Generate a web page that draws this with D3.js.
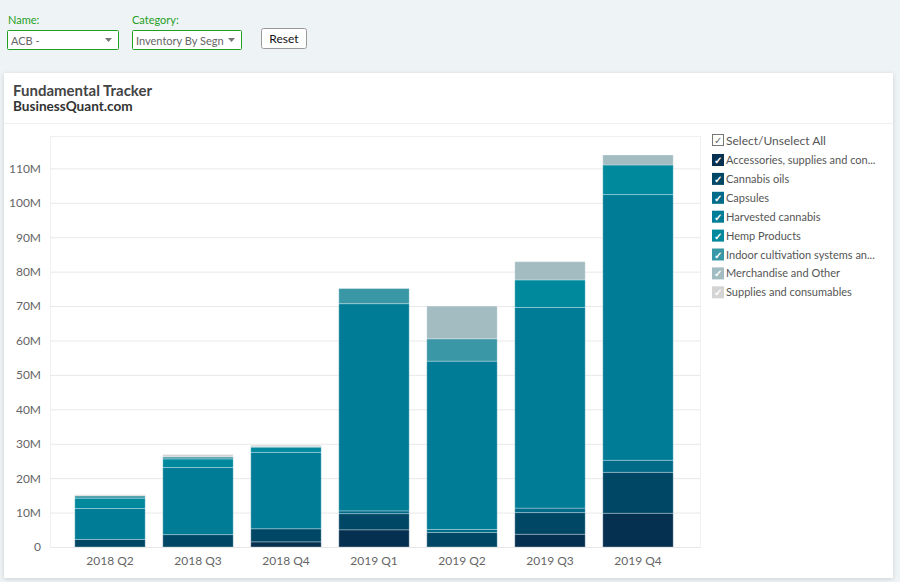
<!DOCTYPE html>
<html>

<head>
  <meta charset="UTF-8">
  <style>
      body {
        margin: 0;
        background: #eef3f6;
        font-family: Lato, "Open Sans", sans-serif;
      }
      svg {
        display: block;
      }
  </style>
</head>

<body>
  <svg id="chart" width="900" height="582"></svg>
  <script src="https://d3js.org/d3.v7.min.js"></script>
  <script>
    // quarters on the x axis
    var quarters = ["2018 Q2", "2018 Q3", "2018 Q4", "2019 Q1", "2019 Q2", "2019 Q3", "2019 Q4"];

    // segment names, bottom of the stack first
    var segments = ["Accessories, supplies and consumables", "Cannabis oils", "Capsules", "Harvested cannabis",
      "Hemp Products", "Indoor cultivation systems and parts", "Merchandise and Other", "Supplies and consumables"];
    var segColors = ["#06304f", "#004766", "#006a89", "#007c96", "#00889d", "#3a97a6", "#a2bcc2", "#d4d4d4"];

    // values in millions, one per quarter
    var accessories = [0, 0, 1.5, 5.0, 0, 3.7, 9.8];
    var cannabisOils = [2.2, 3.6, 3.8, 4.7, 4.2, 6.3, 11.9];
    var capsules = [0, 0, 0, 0.8, 0.9, 1.3, 3.5];
    var harvested = [9.0, 19.5, 22.2, 60.2, 48.9, 58.3, 77.2];
    var hemp = [3.0, 2.5, 1.5, 0, 0, 8.0, 8.6];
    var indoor = [0.7, 0.6, 0.2, 4.4, 6.5, 0, 0];
    var merchandise = [0, 0, 0, 0, 9.5, 5.3, 2.9];
    var supplies = [0.3, 0.7, 0.4, 0, 0, 0, 0];

    var yTicks = [0, 10e6, 20e6, 30e6, 40e6, 50e6, 60e6, 70e6, 80e6, 90e6, 100e6, 110e6];

    var series = [accessories, cannabisOils, capsules, harvested, hemp, indoor, merchandise, supplies];

    var rows = quarters.map(function(q, i) {
      var r = {quarter: q};
      segments.forEach(function(s, j) { r[s] = series[j][i] * 1e6; });
      return r;
    });

    var svg = d3.select("#chart");

    // drop shadow for the card
    var defs = svg.append("defs");
    var f = defs.append("filter").attr("id", "shadow").attr("x", "-5%").attr("y", "-5%")
      .attr("width", "110%").attr("height", "110%");
    f.append("feDropShadow").attr("dx", 0).attr("dy", 1).attr("stdDeviation", 2)
      .attr("flood-color", "#000").attr("flood-opacity", 0.15);

    // ---- controls on top ----
    var ctrl = svg.append("g");
    ctrl.append("text").attr("x", 8).attr("y", 24).text("Name:")
      .style("fill", "#1fa01f").style("font-size", "11px");
    ctrl.append("text").attr("x", 132).attr("y", 24).text("Category:")
      .style("fill", "#1fa01f").style("font-size", "11px");

    function selectBox(x, w, label) {
      ctrl.append("rect").attr("x", x + 0.5).attr("y", 30.5).attr("width", w).attr("height", 19)
        .attr("rx", 1).style("fill", "#fff").style("stroke", "#1fa01f");
      ctrl.append("text").attr("x", x + 4).attr("y", 44.5).text(label)
        .style("fill", "#666").style("font-size", "11px");
      ctrl.append("path")
        .attr("d", "M" + (x + w - 13) + ",38 h7 l-3.5,4 z")
        .style("fill", "#777");
    }
    selectBox(7, 111, "ACB -");
    selectBox(132, 109, "Inventory By Segn");

    ctrl.append("rect").attr("x", 261.5).attr("y", 28.5).attr("width", 45).attr("height", 20)
      .attr("rx", 2).style("fill", "#fff").style("stroke", "#999");
    ctrl.append("text").attr("x", 284).attr("y", 42.5).attr("text-anchor", "middle").text("Reset")
      .style("fill", "#111").style("font-size", "12px");

    // ---- card ----
    svg.append("rect").attr("x", 4).attr("y", 73).attr("width", 889).attr("height", 505)
      .style("fill", "#fff").attr("filter", "url(#shadow)");
    svg.append("text").attr("x", 13).attr("y", 96).text("Fundamental Tracker")
      .style("font-size", "15px").style("font-weight", "bold").style("fill", "#444");
    svg.append("text").attr("x", 13).attr("y", 111).text("BusinessQuant.com")
      .style("font-size", "13.6px").style("font-weight", "bold").style("fill", "#333");
    svg.append("line").attr("x1", 4).attr("x2", 893).attr("y1", 123.5).attr("y2", 123.5)
      .style("stroke", "#f0f0f0");

    // ---- plot ----
    var plot = {left: 50, right: 700, top: 136, bottom: 547};

    var x = d3.scaleBand().domain(quarters).range([66, 682]).paddingInner(0.2).paddingOuter(0.1);
    var y = d3.scaleLinear().domain([0, 120e6]).range([plot.bottom, 134]);

    svg.append("rect").attr("x", plot.left + 0.5).attr("y", plot.top + 0.5)
      .attr("width", plot.right - plot.left).attr("height", plot.bottom - plot.top)
      .style("fill", "none").style("stroke", "#f0f0f0");

    var yAxis = svg.append("g").attr("transform", "translate(" + plot.left + ",0)")
      .call(d3.axisLeft(y).tickValues(yTicks).tickFormat(d3.format("~s"))
        .tickSize(-(plot.right - plot.left)).tickPadding(9));
    yAxis.select(".domain").remove();
    yAxis.selectAll(".tick line").style("stroke", "#e8e8e8");
    yAxis.selectAll(".tick text").style("fill", "#666").style("font-size", "12px")
      .style("font-family", "Lato, sans-serif");

    var stack = d3.stack().keys(segments)(rows);

    svg.append("g").selectAll("g").data(stack).join("g")
      .style("fill", function(d, i) { return segColors[i]; })
      .selectAll("rect").data(function(d) { return d; }).join("rect")
        .attr("x", function(d) { return x(d.data.quarter); })
        .attr("width", x.bandwidth())
        .attr("y", function(d) { return y(d[1]); })
        .attr("height", function(d) { return y(d[0]) - y(d[1]); })
        .style("stroke", "rgba(255,255,255,0.3)")
        .style("stroke-width", 1);

    var xAxis = svg.append("g").attr("transform", "translate(0," + plot.bottom + ")")
      .call(d3.axisBottom(x).tickSize(0).tickPadding(9));
    xAxis.select(".domain").style("stroke", "#e8e8e8")
      .attr("d", "M" + plot.left + ",0.5H" + plot.right);
    xAxis.selectAll(".tick text").style("fill", "#666").style("font-size", "12px")
      .style("font-family", "Lato, sans-serif");

    // ---- legend ----
    var legend = svg.append("g").attr("transform", "translate(712,0)");
    var all = legend.append("g").attr("transform", "translate(0,140)");
    all.append("rect").attr("x", 0.5).attr("y", -5.5).attr("width", 11).attr("height", 11)
      .style("fill", "#fff").style("stroke", "#777");
    all.append("text").attr("x", 6).attr("y", 4).attr("text-anchor", "middle").text("\u2713")
      .style("font-size", "10px").style("fill", "#666");
    all.append("text").attr("x", 14).attr("y", 4.5).text("Select/Unselect All")
      .style("font-size", "12px").style("fill", "#555");

    var items = legend.selectAll(".item").data(segments).join("g").attr("class", "item")
      .attr("transform", function(d, i) { return "translate(0," + (160 + i * 18.9) + ")"; });
    items.append("rect").attr("x", 0).attr("y", -6).attr("width", 12).attr("height", 12)
      .style("fill", function(d, i) { return segColors[i]; });
    items.append("text").attr("x", 6).attr("y", 4).attr("text-anchor", "middle").text("\u2713")
      .style("font-size", "10px").style("font-weight", "bold").style("fill", "#fff");
    items.append("text").attr("x", 14).attr("y", 4)
      .text(function(d) { return d.length > 30 ? d.slice(0, 29) + "..." : d; })
      .style("font-size", "11px").style("fill", "#555");
  </script>
</body>

</html>
